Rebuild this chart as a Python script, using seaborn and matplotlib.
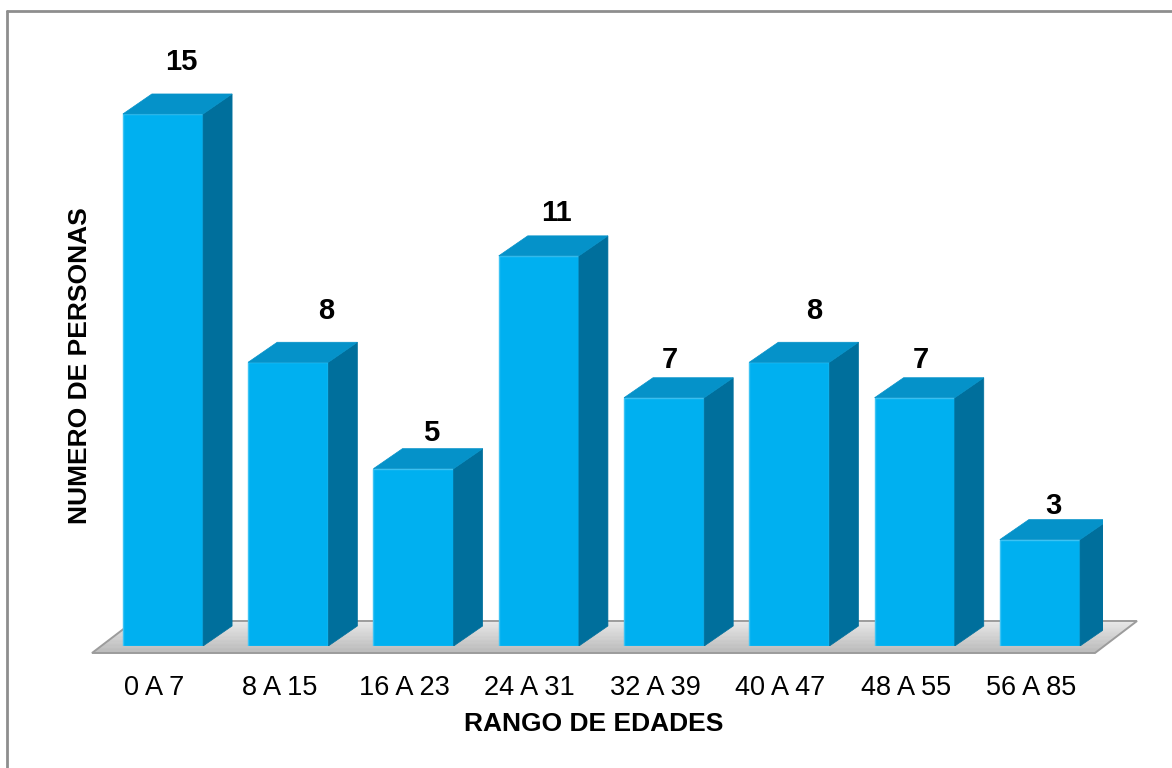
import matplotlib
matplotlib.use("Agg")
import matplotlib.pyplot as plt
import seaborn as sns
import pandas as pd
import numpy as np
from matplotlib.patches import Polygon
from matplotlib.lines import Line2D
from matplotlib.transforms import ScaledTranslation
from matplotlib.colors import to_rgb

# ---- data -------------------------------------------------------------
categories = ["0 A 7", "8 A 15", "16 A 23", "24 A 31",
              "32 A 39", "40 A 47", "48 A 55", "56 A 85"]
counts = [15, 8, 5, 11, 7, 8, 7, 3]

# small nudges (pixels, right/up) for the value labels above each bar
label_dx = [18, 38, 18, 18, 6, 25, 6, 13]
label_dy = [52, 51, 36, 43, 38, 51, 38, 34]

# ---- style ------------------------------------------------------------
sns.set_theme(style="white")
plt.rcParams["font.family"] = ["Liberation Sans", "DejaVu Sans"]

FRONT = "#00B0F0"
SIDE = "#006F9C"
TOP = "#0592C9"

W, H = 1172, 768
fig = plt.figure(figsize=(W / 100, H / 100), dpi=100)
fig.patch.set_facecolor("white")

# axes placed so that one category step and one count unit have fixed pixel sizes
ax_left, ax_bottom = 100.35, 122.0
ax_w, ax_h = 1002.25, 567.5
ax = fig.add_axes([ax_left / W, ax_bottom / H, ax_w / W, ax_h / H])
ax.set_facecolor("none")

df = pd.DataFrame({"rango": categories, "personas": counts})
sns.barplot(data=df, x="rango", y="personas", color=FRONT, saturation=1,
            width=0.64, ax=ax, zorder=3, edgecolor="#3CC3F4", linewidth=1.0)

xmin, xmax, ymin, ymax = -0.5, 7.5, 0, 16
ax.set_xlim(xmin, xmax)
ax.set_ylim(ymin, ymax)

px_x = ax_w / (xmax - xmin)   # pixels per category step
px_y = ax_h / (ymax - ymin)   # pixels per count unit

# depth of the 3-D bars, expressed in data units
dx = 29 / px_x
dy = 20 / px_y

for bar in list(ax.patches):
    x0 = bar.get_x()
    w = bar.get_width()
    h = bar.get_height()
    side = Polygon([(x0 + w, 0), (x0 + w + dx, dy), (x0 + w + dx, h + dy), (x0 + w, h)],
                   closed=True, facecolor=SIDE, edgecolor=SIDE, lw=0.5, zorder=3)
    top = Polygon([(x0, h), (x0 + dx, h + dy), (x0 + w + dx, h + dy), (x0 + w, h)],
                  closed=True, facecolor=TOP, edgecolor=TOP, lw=0.5, zorder=3)
    ax.add_patch(side)
    ax.add_patch(top)

# floor plate under the bars, shaded from front to back
f_front = -7 / px_y
f_back = 25 / px_y
f_left = xmin + (92 - ax_left) / px_x
f_right = xmax + (1095 - (ax_left + ax_w)) / px_x
f_shift = 42 / px_x
n_bands = 24
c_front = np.array(to_rgb("#B8B8B8"))
c_back = np.array(to_rgb("#E8E8E8"))
for k in range(n_bands):
    t0, t1 = k / n_bands, (k + 1) / n_bands
    y0 = f_front + (f_back - f_front) * t0
    y1 = f_front + (f_back - f_front) * t1
    col = c_front + (c_back - c_front) * (t0 + t1) / 2
    band = Polygon([(f_left + f_shift * t0, y0), (f_right + f_shift * t0, y0),
                    (f_right + f_shift * t1, y1), (f_left + f_shift * t1, y1)],
                   closed=True, facecolor=col, edgecolor=col, lw=0.4,
                   zorder=1, clip_on=False)
    ax.add_patch(band)
outline = Polygon([(f_left, f_front), (f_right, f_front),
                   (f_right + f_shift, f_back), (f_left + f_shift, f_back)],
                  closed=True, facecolor="none", edgecolor="#9C9C9C", lw=1.4,
                  zorder=1.5, clip_on=False)
ax.add_patch(outline)

# value labels
for i, v in enumerate(counts):
    ax.annotate(str(v), xy=(i, v), xytext=(label_dx[i] * 0.72, label_dy[i] * 0.72),
                textcoords="offset points", ha="center", va="center",
                fontsize=21, fontweight="bold", color="black", zorder=5)

# axes cosmetics
for s in ax.spines.values():
    s.set_visible(False)
ax.set_yticks([])
ax.tick_params(axis="x", length=0, pad=21, labelsize=19.5, labelcolor="black")
shift = ScaledTranslation(-9 / 100, 0, fig.dpi_scale_trans)
for lab in ax.get_xticklabels():
    lab.set_transform(lab.get_transform() + shift)

ax.set_xlabel("RANGO DE EDADES", fontsize=19, fontweight="bold", color="black", va="center")
ax.set_ylabel("NUMERO DE PERSONAS", fontsize=19, fontweight="bold", color="black", va="center")
ax.xaxis.set_label_coords((594 - ax_left) / ax_w, (H - 724 - ax_bottom) / ax_h)
ax.yaxis.set_label_coords((80 - ax_left) / ax_w, (H - 366 - ax_bottom) / ax_h)

# chart-area frame (left and top edges)
frame_kw = dict(color="#8E8E8E", lw=2.0, transform=fig.transFigure)
fig.add_artist(Line2D([7 / W, 7 / W], [0, 1 - 11 / H], **frame_kw))
fig.add_artist(Line2D([7 / W, 1], [1 - 11 / H, 1 - 11 / H], **frame_kw))

fig.savefig("out.png", dpi=100, facecolor="white")
